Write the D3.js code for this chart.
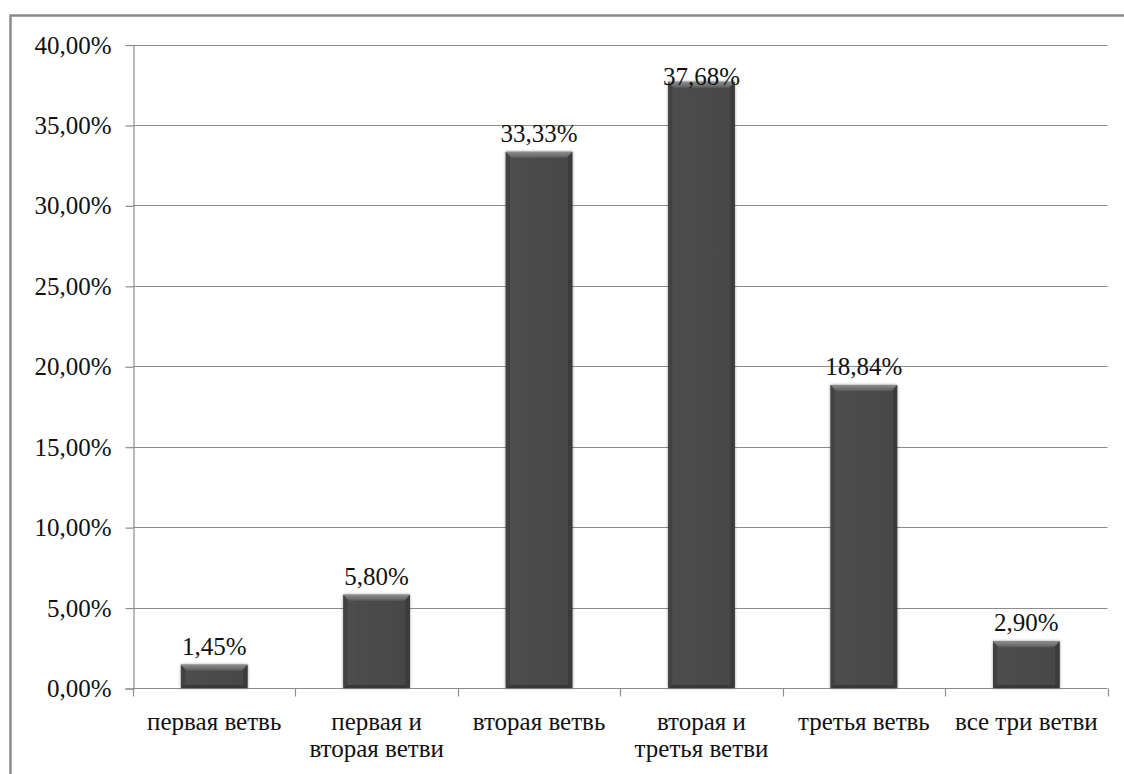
<!DOCTYPE html>
<html>
<head>
<meta charset="utf-8">
<script src="https://cdn.jsdelivr.net/npm/d3@7"></script>
<style>
  html, body { margin: 0; padding: 0; background: #ffffff; }
  svg { display: block; }
</style>
</head>
<body>
<svg id="chart" width="1124" height="774"></svg>
<script>
// Share of cases by branch involvement
const categories = ["первая ветвь", "первая и вторая ветви", "вторая ветвь",
                    "вторая и третья ветви", "третья ветвь", "все три ветви"];
const categoryLines = [["первая ветвь"], ["первая и", "вторая ветви"], ["вторая ветвь"],
                       ["вторая и", "третья ветви"], ["третья ветвь"], ["все три ветви"]];
const values = [1.45, 5.80, 33.33, 37.68, 18.84, 2.90];
const yTicks = [0, 5, 10, 15, 20, 25, 30, 35, 40];

const FONT = "'Liberation Serif', 'Times New Roman', Times, 'DejaVu Serif', serif";
const fmt = v => v.toFixed(2).replace(".", ",") + "%";

const svg = d3.select("#chart").attr("font-family", FONT);
const plot = { left: 133, right: 1107.5, top: 44.5, bottom: 688 };

// Outer chart frame (runs past the right/bottom edges)
svg.append("rect")
  .attr("x", 10.5).attr("y", 15.5)
  .attr("width", 1140).attr("height", 800)
  .attr("fill", "#fff")
  .attr("stroke", "#8a8a8a").attr("stroke-width", 2.5);

const x = d3.scaleBand().domain(categories).range([plot.left, plot.right]).padding(0);
const y = d3.scaleLinear().domain([0, 40]).range([plot.bottom, plot.top]);

// Horizontal gridlines
svg.append("g").selectAll("line")
  .data(yTicks.filter(t => t > 0))
  .join("line")
  .attr("x1", plot.left).attr("x2", plot.right)
  .attr("y1", d => Math.round(y(d)) + 0.5).attr("y2", d => Math.round(y(d)) + 0.5)
  .attr("stroke", "#8c8c8c").attr("stroke-width", 1.2);

// Y axis
const yAxis = d3.axisLeft(y).tickValues(yTicks).tickFormat(fmt).tickSize(8).tickPadding(14);
const gy = svg.append("g").attr("transform", `translate(${plot.left + 0.5},0.5)`).call(yAxis)
  .attr("font-family", FONT).attr("font-size", 25);
gy.select(".domain").attr("stroke", "#8c8c8c").attr("stroke-width", 1.2);
gy.selectAll(".tick line").attr("stroke", "#8c8c8c").attr("stroke-width", 1.2);
gy.selectAll(".tick text").attr("fill", "#111").style("font-family", FONT);

// X axis with ticks between categories
const gx = svg.append("g").attr("transform", `translate(0,${Math.round(plot.bottom) + 0.5})`);
gx.append("line").attr("x1", plot.left).attr("x2", plot.right)
  .attr("stroke", "#8c8c8c").attr("stroke-width", 1.2);
const bounds = categories.map(c => x(c)).concat([plot.right]);
gx.selectAll("line.tk").data(bounds).join("line").attr("class", "tk")
  .attr("x1", d => Math.round(d) + 0.5).attr("x2", d => Math.round(d) + 0.5)
  .attr("y1", 0).attr("y2", 8)
  .attr("stroke", "#8c8c8c").attr("stroke-width", 1.2);

// Category labels
gx.selectAll("text.cat").data(categories).join("text").attr("class", "cat")
  .attr("text-anchor", "middle").attr("font-size", 25).attr("fill", "#111")
  .style("font-family", FONT)
  .each(function(d, i) {
    const t = d3.select(this);
    categoryLines[i].forEach((ln, j) => {
      t.append("tspan").attr("x", x(d) + x.bandwidth() / 2)
        .attr("y", 41 + j * 27).text(ln);
    });
  });

// Bar styling: bevelled dark bars with a soft shadow
const defs = svg.append("defs");
const sh = defs.append("filter").attr("id", "shadow")
  .attr("x", "-20%").attr("y", "-20%").attr("width", "140%").attr("height", "140%");
sh.append("feGaussianBlur").attr("in", "SourceAlpha").attr("stdDeviation", 1.5).attr("result", "b");
sh.append("feComponentTransfer").attr("in", "b").attr("result", "s")
  .append("feFuncA").attr("type", "linear").attr("slope", 0.4);
const m = sh.append("feMerge");
m.append("feMergeNode").attr("in", "s");
m.append("feMergeNode").attr("in", "SourceGraphic");

const gTop = defs.append("linearGradient").attr("id", "bevelTop").attr("x1", 0).attr("y1", 0).attr("x2", 0).attr("y2", 1);
gTop.append("stop").attr("offset", "0%").attr("stop-color", "#8e8e8e");
gTop.append("stop").attr("offset", "100%").attr("stop-color", "#5c5c5c");
const gBody = defs.append("linearGradient").attr("id", "body").attr("x1", 0).attr("y1", 0).attr("x2", 1).attr("y2", 0);
gBody.append("stop").attr("offset", "0%").attr("stop-color", "#4e4e4e");
gBody.append("stop").attr("offset", "50%").attr("stop-color", "#4a4a4a");
gBody.append("stop").attr("offset", "100%").attr("stop-color", "#464646");

const barFrac = 0.41;
const bw = x.bandwidth() * barFrac;
const bev = 6;

const bars = svg.append("g").selectAll("g.bar")
  .data(categories.map((c, i) => ({ c, v: values[i] })))
  .join("g").attr("class", "bar").attr("filter", "url(#shadow)");

bars.each(function(d) {
  const g = d3.select(this);
  const x0 = x(d.c) + (x.bandwidth() - bw) / 2, x1 = x0 + bw;
  const y0 = y(d.v), y1 = y(0);
  const b = Math.min(bev, (y1 - y0) / 3);
  g.append("rect").attr("x", x0).attr("y", y0).attr("width", bw).attr("height", y1 - y0)
    .attr("fill", "url(#body)");
  // left edge
  g.append("path").attr("d", `M${x0},${y0}L${x0 + b * 0.7},${y0 + b}L${x0 + b * 0.7},${y1 - b * 0.5}L${x0},${y1}Z`)
    .attr("fill", "#424242");
  // right edge
  g.append("path").attr("d", `M${x1},${y0}L${x1 - b * 0.7},${y0 + b}L${x1 - b * 0.7},${y1 - b * 0.5}L${x1},${y1}Z`)
    .attr("fill", "#3a3a3a");
  // bottom edge
  g.append("path").attr("d", `M${x0},${y1}L${x0 + b * 0.7},${y1 - b * 0.5}L${x1 - b * 0.7},${y1 - b * 0.5}L${x1},${y1}Z`)
    .attr("fill", "#383838");
  // top bevel
  g.append("path").attr("d", `M${x0},${y0}L${x1},${y0}L${x1 - b},${y0 + b}L${x0 + b},${y0 + b}Z`)
    .attr("fill", "url(#bevelTop)");
});

// Value labels above bars
svg.append("g").selectAll("text.val")
  .data(categories.map((c, i) => ({ c, v: values[i] })))
  .join("text").attr("class", "val")
  .attr("text-anchor", "middle").attr("font-size", 25).attr("fill", "#111")
  .style("font-family", FONT)
  .attr("x", d => x(d.c) + x.bandwidth() / 2)
  .attr("y", d => Math.max(y(d.v) - 10, plot.top + 40))
  .text(d => fmt(d.v));
</script>
</body>
</html>
